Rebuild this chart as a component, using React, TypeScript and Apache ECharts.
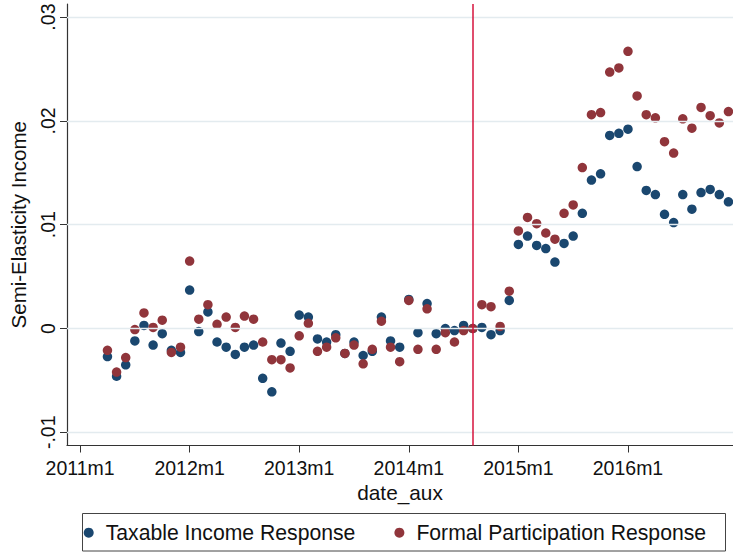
import React, { useEffect, useRef } from "react";
import * as echarts from "echarts";

// Monthly observations 2011m4 .. 2016m12
const months = [
  "2011m4", "2011m5", "2011m6", "2011m7", "2011m8", "2011m9", "2011m10", "2011m11", "2011m12",
  "2012m1", "2012m2", "2012m3", "2012m4", "2012m5", "2012m6", "2012m7", "2012m8", "2012m9", "2012m10", "2012m11", "2012m12",
  "2013m1", "2013m2", "2013m3", "2013m4", "2013m5", "2013m6", "2013m7", "2013m8", "2013m9", "2013m10", "2013m11", "2013m12",
  "2014m1", "2014m2", "2014m3", "2014m4", "2014m5", "2014m6", "2014m7", "2014m8", "2014m9", "2014m10", "2014m11", "2014m12",
  "2015m1", "2015m2", "2015m3", "2015m4", "2015m5", "2015m6", "2015m7", "2015m8", "2015m9", "2015m10", "2015m11", "2015m12",
  "2016m1", "2016m2", "2016m3", "2016m4", "2016m5", "2016m6", "2016m7", "2016m8", "2016m9", "2016m10", "2016m11", "2016m12",
];

const taxableIncome = [
  -0.0027, -0.0046, -0.0035, -0.0012, 0.0003, -0.0016, -0.0005, -0.0021, -0.0023,
  0.0037, -0.0003, 0.0016, -0.0013, -0.0018, -0.0025, -0.0018, -0.0016, -0.0048, -0.0061, -0.0014, -0.0022,
  0.0013, 0.0011, -0.0010, -0.0013, -0.0006, -0.0024, -0.0013, -0.0026, -0.0022, 0.0011, -0.0012, -0.0018,
  0.0028, -0.0004, 0.0024, -0.0005, 0.0000, -0.0002, 0.0003, 0.0000, 0.0001, -0.0006, -0.0002, 0.0027,
  0.0081, 0.0089, 0.0080, 0.0077, 0.0064, 0.0082, 0.0089, 0.0111, 0.0143, 0.0149, 0.0186, 0.0188,
  0.0192, 0.0156, 0.0133, 0.0129, 0.0110, 0.0102, 0.0129, 0.0115, 0.0131, 0.0134, 0.0129, 0.0122,
];

const formalParticipation = [
  -0.0021, -0.0042, -0.0028, -0.0001, 0.0015, 0.0001, 0.0008, -0.0023, -0.0018,
  0.0065, 0.0009, 0.0023, 0.0004, 0.0011, 0.0001, 0.0012, 0.0009, -0.0013, -0.0030, -0.0030, -0.0038,
  -0.0007, 0.0005, -0.0022, -0.0018, -0.0009, -0.0024, -0.0016, -0.0034, -0.0020, 0.0007, -0.0018, -0.0032,
  0.0027, -0.0020, 0.0019, -0.0020, -0.0004, -0.0013, -0.0002, 0.0000, 0.0023, 0.0021, 0.0002, 0.0036,
  0.0094, 0.0107, 0.0101, 0.0092, 0.0086, 0.0111, 0.0119, 0.0155, 0.0206, 0.0208, 0.0247, 0.0251,
  0.0267, 0.0224, 0.0206, 0.0203, 0.0180, 0.0169, 0.0202, 0.0193, 0.0213, 0.0205, 0.0198, 0.0209,
];

const xTickLabels = ["2011m1", "2012m1", "2013m1", "2014m1", "2015m1", "2016m1"];
const yTickValues = [-0.01, 0, 0.01, 0.02, 0.03];
const reformMonth = "2014m8";

const seriesNames = ["Taxable Income Response", "Formal Participation Response"];
const FONT = "'Liberation Sans', Arial, Helvetica, sans-serif";

const toIndex = (s: string) => {
  const [y, m] = s.split("m").map(Number);
  return (y - 2011) * 12 + (m - 1);
};

const fmtY = (v: number) => {
  const r = Math.round(v * 100) / 100;
  if (r === 0) return "0";
  return (r < 0 ? "-" : "") + Math.abs(r).toFixed(2).replace(/^0/, "");
};

export default function App() {
  const ref = useRef<HTMLDivElement>(null);

  useEffect(() => {
    if (!ref.current) return;
    const chart = echarts.init(ref.current, null, { renderer: "svg" });
    const xTickValues = xTickLabels.map(toIndex);

    const option: any = {
      animation: false,
      backgroundColor: "#ffffff",
      textStyle: { fontFamily: FONT },
      grid: { left: 65.5, right: 0, top: 4, bottom: 106.5, containLabel: false },
      xAxis: {
        type: "value",
        min: -1.43,
        max: 71.5,
        name: "date_aux",
        nameLocation: "middle",
        nameGap: 34,
        nameTextStyle: { fontSize: 20.8, color: "#111", fontFamily: FONT },
        axisLine: { show: true, onZero: false, lineStyle: { color: "#333", width: 1.2 } },
        axisTick: { show: true, customValues: xTickValues, length: 7, lineStyle: { color: "#333", width: 1 } },
        axisLabel: {
          customValues: xTickValues,
          formatter: (v: number) => xTickLabels[xTickValues.indexOf(Math.round(v))] ?? "",
          fontSize: 19.5,
          color: "#111",
          margin: 12,
          fontFamily: FONT,
        },
        splitLine: { show: false },
      },
      yAxis: {
        type: "value",
        min: -0.01127,
        max: 0.03126,
        name: "Semi-Elasticity Income",
        nameLocation: "middle",
        nameGap: 38,
        nameTextStyle: { fontSize: 20.5, color: "#111", fontFamily: FONT },
        axisLine: { show: true, onZero: false, lineStyle: { color: "#333", width: 1.2 } },
        axisTick: { show: true, customValues: yTickValues, length: 7, lineStyle: { color: "#333", width: 1 } },
        axisLabel: {
          customValues: yTickValues,
          formatter: (v: number) => fmtY(v),
          rotate: 90,
          fontSize: 19.5,
          color: "#111",
          margin: 9,
          fontFamily: FONT,
        },
        splitLine: { show: false },
      },
      legend: {
        data: seriesNames,
        left: 83.7,
        top: 520.7,
        padding: 0,
        itemWidth: 24,
        itemHeight: 10,
        itemGap: 39,
        icon: "circle",
        textStyle: { fontSize: 21.2, color: "#111", lineHeight: 24, fontFamily: FONT },
      },
      graphic: [
        {
          type: "rect",
          shape: { x: 82.5, y: 513.5, width: 643, height: 37.5 },
          style: { fill: "none", stroke: "#444", lineWidth: 1 },
          silent: true,
        },
      ],
      series: [
        {
          name: "gridlines",
          type: "line",
          data: [],
          silent: true,
          z: 1,
          markLine: {
            silent: true,
            symbol: "none",
            label: { show: false },
            lineStyle: { color: "#e3ebef", width: 1.3, type: "solid" },
            data: yTickValues.map((v) => ({ yAxis: v })),
          },
        },
        {
          name: "reform",
          type: "line",
          data: [],
          silent: true,
          z: 2,
          markLine: {
            silent: true,
            symbol: "none",
            label: { show: false },
            lineStyle: { color: "#d6133c", width: 1.5, type: "solid" },
            data: [{ xAxis: toIndex(reformMonth) }],
          },
        },
        {
          name: seriesNames[0],
          type: "scatter",
          z: 3,
          symbolSize: 9.5,
          itemStyle: { color: "#1a476f", opacity: 1 },
          data: months.map((m, i) => [toIndex(m), taxableIncome[i]]),
        },
        {
          name: seriesNames[1],
          type: "scatter",
          z: 4,
          symbolSize: 9.5,
          itemStyle: { color: "#90353b", opacity: 1 },
          data: months.map((m, i) => [toIndex(m), formalParticipation[i]]),
        },
      ],
    };

    chart.setOption(option);
    return () => chart.dispose();
  }, []);

  return (
    <div
      ref={ref}
      style={{ position: "fixed", left: 0, top: 0, width: 733, height: 552, background: "#fff" }}
    />
  );
}
